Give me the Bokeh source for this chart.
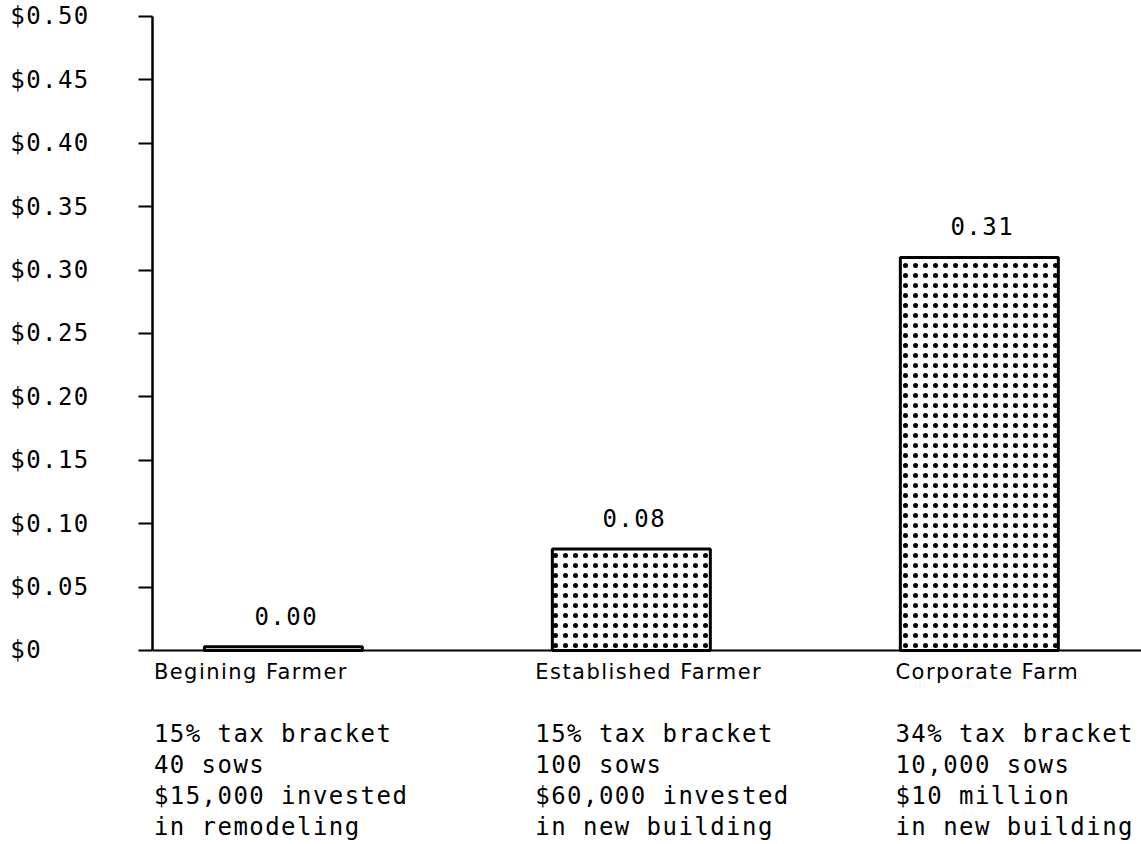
import numpy as np
from bokeh.plotting import figure
from bokeh.models import ColumnDataSource, Range1d, FixedTicker, Span, InlineStyleSheet
from bokeh.core.properties import value
from bokeh.embed import file_html
from bokeh.resources import INLINE

# Cost per pig by type of operation
categories = ["Begining Farmer", "Established Farmer", "Corporate Farm"]
cost_per_pig = [0.003, 0.08, 0.31]

# Description printed under each operation
tax_bracket = ["15% tax bracket", "15% tax bracket", "34% tax bracket"]
herd_size = ["40 sows", "100 sows", "10,000 sows"]
investment = ["$15,000 invested", "$60,000 invested", "$10 million"]
purpose = ["in remodeling", "in new building", "in new building"]

# Y axis ticks
tick_values = [0.0, 0.05, 0.1, 0.15, 0.2, 0.25, 0.3, 0.35, 0.4, 0.45, 0.5]
tick_labels = ["$0", "$0.05", "$0.10", "$0.15", "$0.20", "$0.25",
               "$0.30", "$0.35", "$0.40", "$0.45", "$0.50"]

MONO = "DejaVu Sans Mono"
PROP = "DejaVu Sans"
FS = "24px"

x = np.arange(len(categories), dtype=float)
half_width = 0.227
label_shift = np.array([-0.372, -0.276, -0.241])  # left edge of text blocks

p = figure(width=1141, height=844,
           x_range=Range1d(-0.376, 2.466), y_range=Range1d(-0.153, 0.5126),
           output_backend="svg", toolbar_location=None, x_axis_location=None,
           min_border_left=152, min_border_right=0, min_border_top=0, min_border_bottom=0)
p.outline_line_color = None
p.grid.visible = False
p.background_fill_color = "white"
p.border_fill_color = "white"
# printer-style wide character spacing
p.stylesheets = [InlineStyleSheet(css=":host { letter-spacing: 1.45px; }")]

yaxis = p.yaxis[0]
yaxis.ticker = FixedTicker(ticks=tick_values)
yaxis.bounds = (0, 0.5)
yaxis.major_label_overrides = {t: lbl.ljust(5, "\u00a0") for t, lbl in zip(tick_values, tick_labels)}
yaxis.axis_line_width = 2.5
yaxis.axis_line_color = "black"
yaxis.major_tick_line_width = 2
yaxis.major_tick_line_color = "black"
yaxis.major_tick_out = 14
yaxis.major_tick_in = 0
yaxis.minor_tick_out = 0
yaxis.minor_tick_in = 0
yaxis.major_label_standoff = 56
yaxis.major_label_text_font = MONO
yaxis.major_label_text_font_size = FS
yaxis.major_label_text_color = "black"

src = ColumnDataSource(dict(
    x=x, left=x - half_width, right=x + half_width, top=cost_per_pig,
    val=[f"{v:.2f}" for v in cost_per_pig],
    tx=x + label_shift, cat=categories,
    l1=tax_bracket, l2=herd_size, l3=investment, l4=purpose,
))

p.quad(left="left", right="right", bottom=0, top="top", source=src,
       fill_color="white", hatch_pattern="dot", hatch_scale=10, hatch_color="black",
       hatch_weight=3, line_color="black", line_width=3)

p.add_layout(Span(location=0, dimension="width", line_color="black", line_width=2))

p.text(x="x", y="top", text="val", source=src, y_offset=-31,
       text_align="center", text_baseline="middle",
       text_font=value(MONO), text_font_size=FS, text_color="black")

p.text(x="tx", y=0, text="cat", source=src, y_offset=22,
       text_align="left", text_baseline="middle",
       text_font=value(PROP), text_font_size="21px", text_color="black")

for col, off in (("l1", 84), ("l2", 115), ("l3", 146), ("l4", 177)):
    p.text(x="tx", y=0, text=col, source=src, y_offset=off,
           text_align="left", text_baseline="middle",
           text_font=value(MONO), text_font_size=FS, text_color="black")

open("out.html", "w").write(file_html(p, INLINE))
